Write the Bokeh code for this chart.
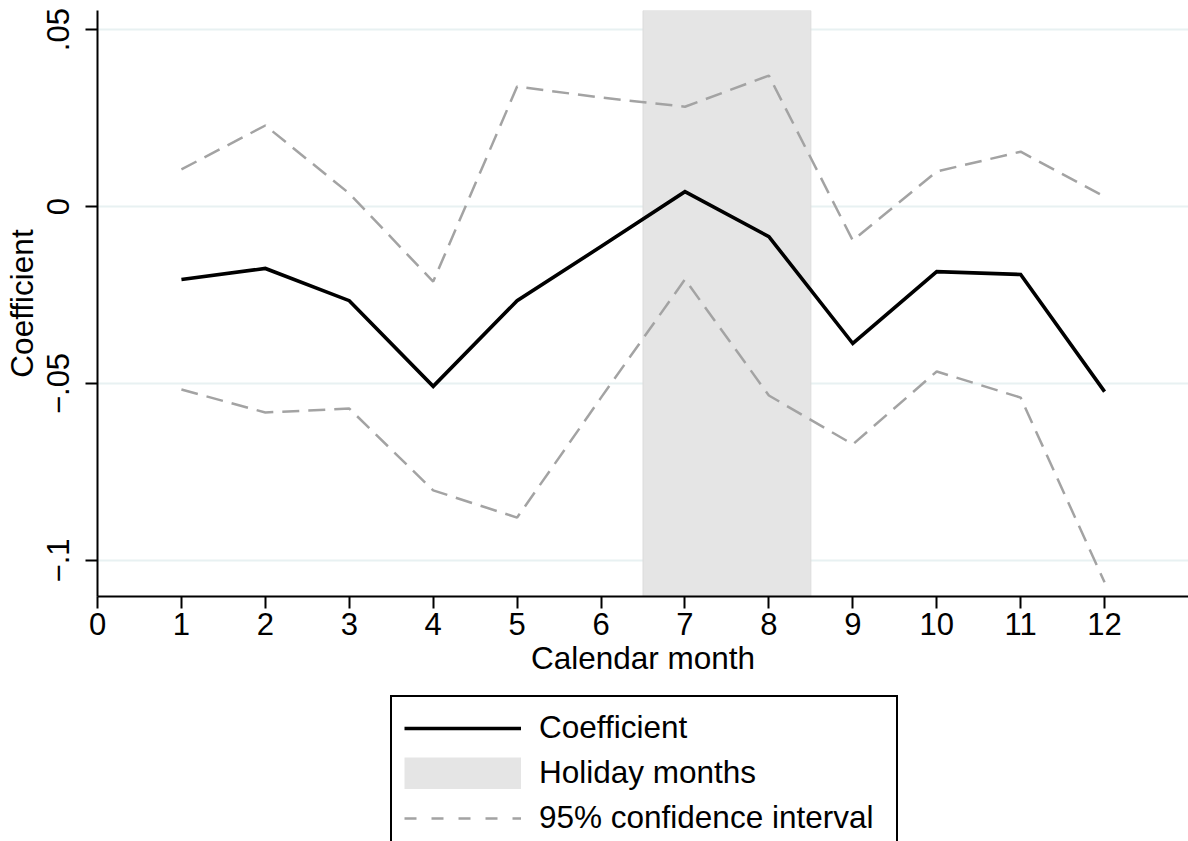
from bokeh.plotting import figure
from bokeh.layouts import column
from bokeh.models import Range1d, FixedTicker, Legend, LegendItem
from bokeh.embed import file_html
from bokeh.resources import INLINE

# ---- data ----
months = [1, 2, 3, 4, 5, 6, 7, 8, 9, 10, 11, 12]
coef = [-0.0206, -0.0175, -0.0266, -0.0508, -0.0266, -0.0113, 0.0042, -0.0085,
        -0.0387, -0.0184, -0.0192, -0.0523]
ci_upper = [0.0105, 0.0229, 0.0037, -0.0212, 0.0339, 0.0308, 0.0282, 0.0370,
            -0.0096, 0.0099, 0.0155, 0.0028]
ci_lower = [-0.0517, -0.0582, -0.0571, -0.0802, -0.0879, -0.0540, -0.0206, -0.0534,
            -0.0672, -0.0466, -0.0540, -0.1062]
holiday_months = [7, 8]
x_ticks = list(range(0, 13))
y_ticks = [-0.1, -0.05, 0, 0.05]
y_tick_labels = {-0.1: "\u2212.1", -0.05: "\u2212.05", 0: "0", 0.05: ".05"}
y_min, y_max = -0.1102, 0.0554
x_min, x_max = 0, 13
legend_labels = ["Coefficient", "Holiday months", "95% confidence interval"]

FONT = "Liberation Sans"
COEF_COLOR = "black"
CI_COLOR = "#a3a3a3"
SHADE_COLOR = "#e5e5e5"
CI_DASH = "17 9"

p = figure(width=1188, height=690, output_backend="svg", toolbar_location=None,
           x_range=Range1d(x_min, x_max), y_range=Range1d(y_min, y_max),
           min_border_left=97, min_border_right=0, min_border_top=10,
           min_border_bottom=94)
p.outline_line_color = None
p.background_fill_color = "white"

# grid
p.xgrid.visible = False
p.ygrid.grid_line_color = "#e8f1f2"
p.ygrid.grid_line_width = 2
p.ygrid.ticker = FixedTicker(ticks=y_ticks)

# holiday shading
p.quad(left=[min(holiday_months) - 0.5], right=[max(holiday_months) + 0.5],
       bottom=[y_min], top=[y_max],
       fill_color=SHADE_COLOR, line_color="#dcdcdc", line_width=1)

# CI lines
p.line(months, ci_upper, line_color=CI_COLOR, line_width=2.5, line_dash=CI_DASH)
p.line(months, ci_lower, line_color=CI_COLOR, line_width=2.5, line_dash=CI_DASH)

# coefficient
p.line(months, coef, line_color=COEF_COLOR, line_width=3.6, line_join="miter")

# axes
for ax in (p.xaxis[0], p.yaxis[0]):
    ax.axis_line_color = "black"
    ax.axis_line_width = 2
    ax.major_tick_line_color = "black"
    ax.major_tick_line_width = 2
    ax.major_tick_out = 12
    ax.major_tick_in = 0
    ax.minor_tick_line_color = None
    ax.major_label_text_font = FONT
    ax.major_label_text_font_size = "31px"
    ax.major_label_text_color = "black"
    ax.axis_label_text_font = FONT
    ax.axis_label_text_font_size = "31.5px"
    ax.axis_label_text_font_style = "normal"
    ax.axis_label_text_color = "black"

p.xaxis.ticker = FixedTicker(ticks=x_ticks)
p.xaxis.axis_label = "Calendar month"
p.xaxis.major_label_standoff = 4
p.xaxis.axis_label_standoff = 2

p.yaxis.ticker = FixedTicker(ticks=y_ticks)
p.yaxis.major_label_overrides = y_tick_labels
p.yaxis.major_label_orientation = "vertical"
p.yaxis.axis_label = "Coefficient"
p.yaxis.major_label_standoff = 16
p.yaxis.axis_label_standoff = 5

# ---- legend strip below the chart (its series lie outside its view) ----
pl = figure(width=1188, height=151, output_backend="svg", toolbar_location=None,
            x_axis_location=None, y_axis_location=None,
            x_range=Range1d(x_max + 10, x_max + 11), y_range=Range1d(y_min, y_max),
            min_border_left=0, min_border_right=0, min_border_top=0,
            min_border_bottom=0)
pl.outline_line_color = None
pl.grid.visible = False
k1 = pl.line(months, coef, line_color=COEF_COLOR, line_width=3.6)
k2 = pl.line(months, coef, line_color=SHADE_COLOR, line_width=32, line_cap="butt")
k3 = pl.line(months, ci_upper, line_color=CI_COLOR, line_width=2.5, line_dash="12 15")

legend = Legend(items=[
    LegendItem(label=legend_labels[0], renderers=[k1]),
    LegendItem(label=legend_labels[1], renderers=[k2]),
    LegendItem(label=legend_labels[2], renderers=[k3]),
], location=(293, -9), orientation="vertical")
legend.label_text_font = FONT
legend.label_text_font_size = "31.5px"
legend.label_text_color = "black"
legend.glyph_width = 117
legend.glyph_height = 32
legend.label_height = 32
legend.label_width = 345
legend.label_standoff = 18
legend.spacing = 8
legend.padding = 12
legend.margin = 0
legend.border_line_color = "black"
legend.border_line_alpha = 1
legend.border_line_width = 2
legend.background_fill_color = "white"
legend.background_fill_alpha = 1
pl.add_layout(legend, "center")

layout = column(p, pl, spacing=0)
open("out.html", "w").write(file_html(layout, INLINE))
